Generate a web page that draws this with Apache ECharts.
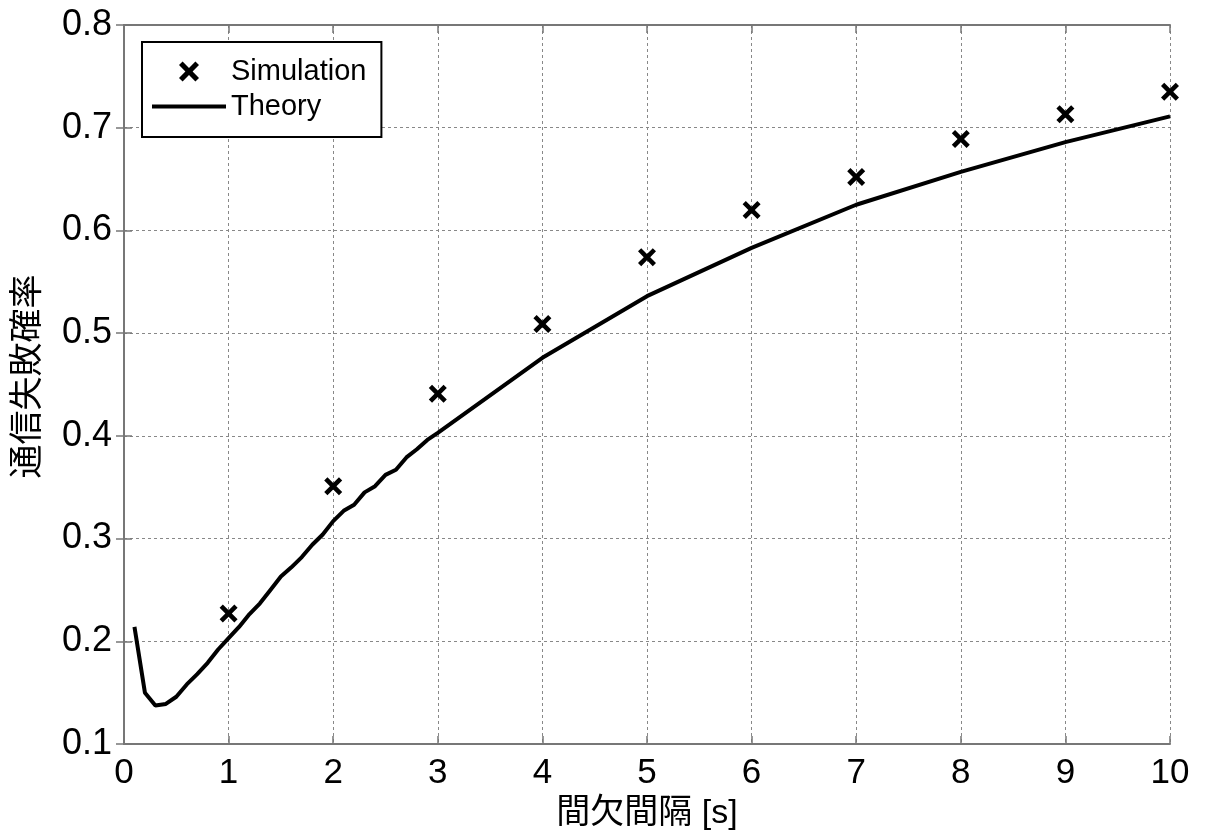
<!DOCTYPE html>
<html>
<head>
<meta charset="utf-8">
<script src="https://cdn.jsdelivr.net/npm/echarts@6/dist/echarts.min.js"></script>
<style>
  html, body { margin: 0; padding: 0; background: #fff; }
  #chart { width: 1205px; height: 836px; }
</style>
</head>
<body>
<div id="chart"></div>
<script>
// シミュレーション結果（整数の間欠間隔）
var simX = [1, 2, 3, 4, 5, 6, 7, 8, 9, 10];
var simY = [0.227, 0.351, 0.441, 0.509, 0.574, 0.620, 0.652, 0.689, 0.713, 0.735];

// 理論値
var theoryX = [0.1, 0.2, 0.3, 0.4, 0.5, 0.6, 0.7, 0.8, 0.9, 1.0,
               1.1, 1.2, 1.3, 1.4, 1.5, 1.6, 1.7, 1.8, 1.9, 2.0,
               2.1, 2.2, 2.3, 2.4, 2.5, 2.6, 2.7, 2.8, 2.9, 3.0,
               4, 5, 6, 7, 8, 9, 10];
var theoryY = [0.214, 0.150, 0.1375, 0.139, 0.146, 0.158, 0.168, 0.179, 0.192, 0.203,
               0.214, 0.2265, 0.237, 0.250, 0.263, 0.272, 0.282, 0.294, 0.304, 0.317,
               0.327, 0.333, 0.345, 0.351, 0.362, 0.367, 0.379, 0.387, 0.396, 0.403,
               0.476, 0.536, 0.583, 0.625, 0.657, 0.686, 0.711];

var xTicks = { min: 0, max: 10, interval: 1 };
var yTicks = { min: 0.1, max: 0.8, interval: 0.1 };

function zip(xs, ys) {
    return xs.map(function (x, i) { return [x, ys[i]]; });
}

var FONT = "'Liberation Sans', 'Noto Sans CJK JP', sans-serif";
var frameColor = '#777';
var crossPath = 'path://M0,1.8 L1.8,0 L5,3.2 L8.2,0 L10,1.8 L6.8,5 L10,8.2 L8.2,10 L5,6.8 L1.8,10 L0,8.2 L3.2,5 Z';
var barPath = 'path://M0,0 L74,0 L74,4 L0,4 Z';

var myChart = echarts.init(document.getElementById('chart'));

var frameAxis = {
    axisLine: { show: true, lineStyle: { color: frameColor, width: 2 } },
    axisTick: { show: true, inside: true, length: 8, lineStyle: { color: frameColor, width: 1.5 } },
    axisLabel: { show: false },
    splitLine: { show: false }
};

var option = {
    animation: false,
    backgroundColor: '#fff',
    textStyle: { fontFamily: FONT },
    grid: { left: 124, right: 35, top: 25, bottom: 88 },
    legend: {
        left: 142,
        top: 42,
        orient: 'vertical',
        backgroundColor: '#fff',
        borderColor: '#000',
        borderWidth: 2,
        borderRadius: 0,
        padding: [15, 15, 16, 10],
        itemWidth: 74,
        itemHeight: 20,
        itemGap: 6,
        textStyle: { fontSize: 29, lineHeight: 29, color: '#000', fontFamily: FONT },
        data: [
            { name: 'Simulation', icon: crossPath, itemStyle: { color: '#000', opacity: 1 } },
            { name: 'Theory', icon: barPath, itemStyle: { color: '#000', opacity: 1 } }
        ]
    },
    xAxis: [
        Object.assign({
            type: 'value',
            position: 'bottom',
            min: xTicks.min, max: xTicks.max, interval: xTicks.interval,
            name: '間欠間隔 [s]',
            nameLocation: 'middle',
            nameGap: 53,
            nameTextStyle: { fontSize: 34, color: '#000', fontFamily: FONT }
        }, frameAxis, {
            axisLabel: { show: true, fontSize: 35, color: '#000', margin: 12, fontFamily: FONT },
            splitLine: { show: true, lineStyle: { color: '#888', width: 1, type: [3, 3] } }
        }),
        Object.assign({
            type: 'value',
            position: 'top',
            min: xTicks.min, max: xTicks.max, interval: xTicks.interval
        }, frameAxis)
    ],
    yAxis: [
        Object.assign({
            type: 'value',
            position: 'left',
            min: yTicks.min, max: yTicks.max, interval: yTicks.interval,
            name: '通信失敗確率',
            nameLocation: 'middle',
            nameGap: 78,
            nameTextStyle: { fontSize: 34, color: '#000', fontFamily: FONT, padding: [0, 0, 0, 16] }
        }, frameAxis, {
            axisLabel: {
                show: true, fontSize: 36, color: '#000', margin: 12, fontFamily: FONT,
                formatter: function (v) { return v.toFixed(1); }
            },
            splitLine: { show: true, lineStyle: { color: '#888', width: 1, type: [3, 3] } }
        }),
        Object.assign({
            type: 'value',
            position: 'right',
            min: yTicks.min, max: yTicks.max, interval: yTicks.interval
        }, frameAxis)
    ],
    series: [
        {
            name: 'Simulation',
            type: 'scatter',
            symbol: crossPath,
            symbolSize: 18,
            itemStyle: { color: '#000', opacity: 1 },
            data: zip(simX, simY),
            z: 3
        },
        {
            name: 'Theory',
            type: 'line',
            showSymbol: false,
            symbol: 'none',
            lineStyle: { color: '#000', width: 4 },
            itemStyle: { color: '#000' },
            data: zip(theoryX, theoryY),
            z: 2
        }
    ]
};

myChart.setOption(option);
</script>
</body>
</html>
